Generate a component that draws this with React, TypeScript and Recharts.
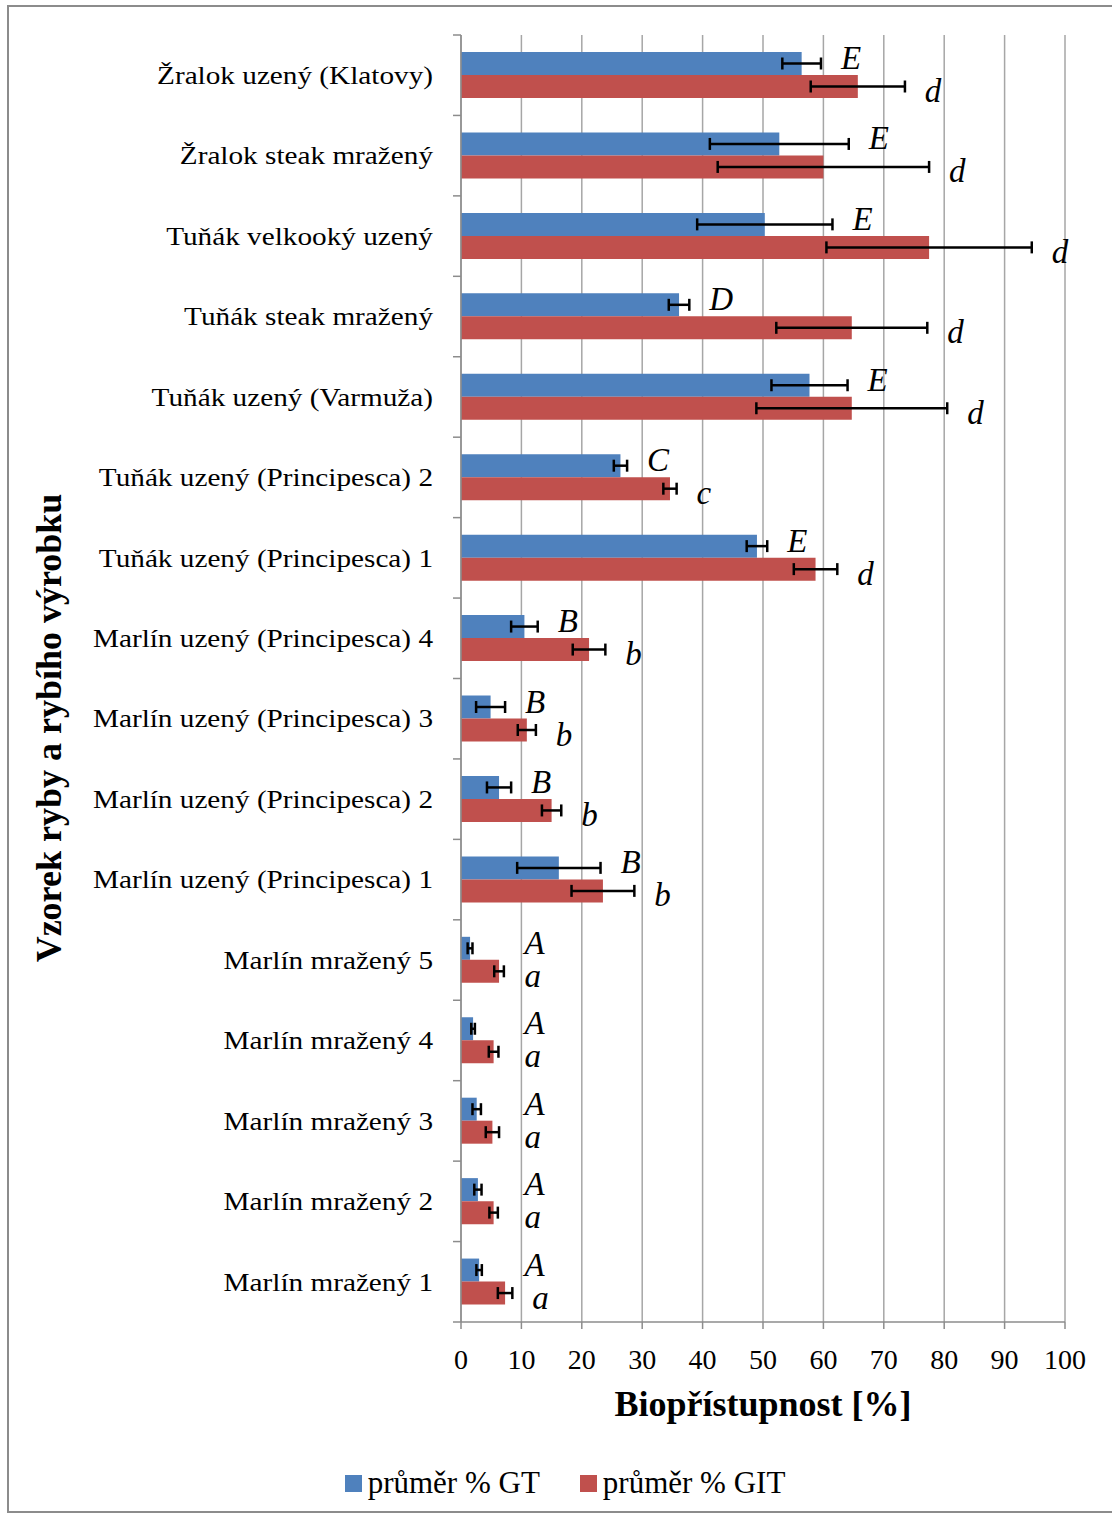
import { Bar, BarChart, CartesianGrid, ErrorBar, LabelList, Legend, XAxis, YAxis } from "recharts";

const categories = [
  "Žralok uzený (Klatovy)",
  "Žralok steak mražený",
  "Tuňák velkooký uzený",
  "Tuňák steak mražený",
  "Tuňák uzený (Varmuža)",
  "Tuňák uzený (Principesca) 2",
  "Tuňák uzený (Principesca) 1",
  "Marlín uzený (Principesca) 4",
  "Marlín uzený (Principesca) 3",
  "Marlín uzený (Principesca) 2",
  "Marlín uzený (Principesca) 1",
  "Marlín mražený 5",
  "Marlín mražený 4",
  "Marlín mražený 3",
  "Marlín mražený 2",
  "Marlín mražený 1"
];

const seriesNames = ["průměr % GT", "průměr % GIT"];

const gtMeans = [56.4, 52.7, 50.3, 36.1, 57.7, 26.4, 49.0, 10.5, 4.9, 6.3, 16.2, 1.5, 2.0, 2.6, 2.8, 3.0];
const gtErrors = [3.2, 11.5, 11.2, 1.7, 6.3, 1.1, 1.7, 2.2, 2.4, 2.0, 6.9, 0.4, 0.3, 0.7, 0.6, 0.45];
const gtLetters = ["E", "E", "E", "D", "E", "C", "E", "B", "B", "B", "B", "A", "A", "A", "A", "A"];

const gitMeans = [65.7, 60.0, 77.5, 64.7, 64.7, 34.6, 58.7, 21.2, 10.9, 15.0, 23.5, 6.3, 5.4, 5.2, 5.4, 7.3];
const gitErrors = [7.8, 17.5, 17.0, 12.5, 15.8, 1.1, 3.6, 2.7, 1.5, 1.6, 5.2, 0.8, 0.8, 1.1, 0.7, 1.2];
const gitLetters = ["d", "d", "d", "d", "d", "c", "d", "b", "b", "b", "b", "a", "a", "a", "a", "a"];

const xTicks = [0, 10, 20, 30, 40, 50, 60, 70, 80, 90, 100];

const data = categories.map((name, i) => ({
  name,
  gt: gtMeans[i],
  gtErr: gtErrors[i],
  gtLetter: gtLetters[i],
  git: gitMeans[i],
  gitErr: gitErrors[i],
  gitLetter: gitLetters[i]
}));

const blue = "#4F81BD";
const red = "#C0504D";
const axisGray = "#8c8c8c";
const serif = '"Liberation Serif", "Times New Roman", serif';

function CategoryTick(props: any) {
  const { x, y, payload } = props;
  const half = payload?.offset || 40.2;
  const last = payload?.index === categories.length - 1;
  return (
    <g>
      <line x1={x + 20} x2={x + 28} y1={y - half} y2={y - half} stroke={axisGray} strokeWidth={1.5} />
      {last && <line x1={x + 20} x2={x + 28} y1={y + half} y2={y + half} stroke={axisGray} strokeWidth={1.5} />}
      <text
        transform={`translate(${x},${y}) scale(1.17,1)`}
        textAnchor="end"
        dy="0.35em"
        fontFamily={serif}
        fontSize={25}
        fill="#000"
      >
        {payload.value}
      </text>
    </g>
  );
}

// significance letters sit a little right of the error bar end
function letterLabel(values: number[], errors: number[], shiftY: number) {
  return (props: any) => {
    const { index, value } = props;
    const vb = props.viewBox || props;
    const v = values[index];
    if (!vb || !v) return null;
    const unit = vb.width / v;
    const left = vb.x + Math.max(v + errors[index] + 3.3, 10.5) * unit;
    return (
      <text
        x={left}
        y={vb.y + vb.height / 2 + shiftY}
        dy="0.35em"
        fontFamily={serif}
        fontStyle="italic"
        fontSize={33}
        fill="#000"
      >
        {value}
      </text>
    );
  };
}

function YTitle() {
  return (
    <text
      transform="translate(61,728) rotate(-90)"
      textAnchor="middle"
      fontFamily={serif}
      fontWeight="bold"
      fontSize={36}
      fill="#000"
    >
      Vzorek ryby a rybího výrobku
    </text>
  );
}

function renderLegend(props: any) {
  const items = [...(props.payload || [])].sort(
    (a: any, b: any) => seriesNames.indexOf(a.value) - seriesNames.indexOf(b.value)
  );
  return (
    <div style={{ display: "flex", justifyContent: "center", paddingLeft: 18, gap: 40 }}>
      {items.map((it: any) => (
        <div key={it.value} style={{ display: "flex", alignItems: "center", gap: 6, height: 34 }}>
          <span style={{ width: 17, height: 17, background: it.color, display: "inline-block" }} />
          <span style={{ fontFamily: serif, fontSize: 31, lineHeight: "34px", color: "#000" }}>{it.value}</span>
        </div>
      ))}
    </div>
  );
}

export default function App() {
  return (
    <div style={{ position: "absolute", left: 0, top: 0, width: 1112, height: 1515, background: "#fff" }}>
      <div
        style={{
          position: "absolute",
          left: 7,
          top: 5,
          width: 1105,
          height: 1508,
          borderTop: `2px solid ${axisGray}`,
          borderLeft: `2px solid ${axisGray}`,
          borderBottom: `2px solid ${axisGray}`,
          boxSizing: "border-box"
        }}
      />
      <div style={{ position: "absolute", left: 0, top: 0 }}>
        <BarChart
          width={1112}
          height={1515}
          data={data}
          layout="vertical"
          margin={{ top: 35, right: 47, bottom: 123, left: 0 }}
          barSize={23}
          barGap={0}
        >
          <CartesianGrid horizontal={false} stroke="#a6a6a6" strokeWidth={1.5} />
          <XAxis
            type="number"
            domain={[0, 100]}
            ticks={xTicks}
            interval={0}
            height={70}
            stroke={axisGray}
            strokeWidth={1.5}
            tickSize={7}
            tickMargin={20}
            tick={{ fill: "#000", fontFamily: serif, fontSize: 28 }}
            label={{
              value: "Biopřístupnost [%]",
              position: "bottom",
              offset: -2,
              fill: "#000",
              fontFamily: serif,
              fontWeight: "bold",
              fontSize: 36
            }}
          />
          <YAxis
            type="category"
            dataKey="name"
            width={461}
            stroke={axisGray}
            strokeWidth={1.5}
            tickLine={false}
            tickSize={8}
            tickMargin={20}
            interval={0}
            tick={<CategoryTick />}
            label={<YTitle />}
          />
          <Legend
            layout="horizontal"
            verticalAlign="middle"
            align="center"
            wrapperStyle={{ top: 1466, left: 0, width: 1112 }}
            content={renderLegend}
          />
          <Bar dataKey="gt" name={seriesNames[0]} fill={blue} isAnimationActive={false}>
            <ErrorBar dataKey="gtErr" direction="x" width={6} stroke="#000" strokeWidth={2.5} />
            <LabelList dataKey="gtLetter" content={letterLabel(gtMeans, gtErrors, -6)} />
          </Bar>
          <Bar dataKey="git" name={seriesNames[1]} fill={red} isAnimationActive={false}>
            <ErrorBar dataKey="gitErr" direction="x" width={6} stroke="#000" strokeWidth={2.5} />
            <LabelList dataKey="gitLetter" content={letterLabel(gitMeans, gitErrors, 4)} />
          </Bar>
        </BarChart>
      </div>
    </div>
  );
}
